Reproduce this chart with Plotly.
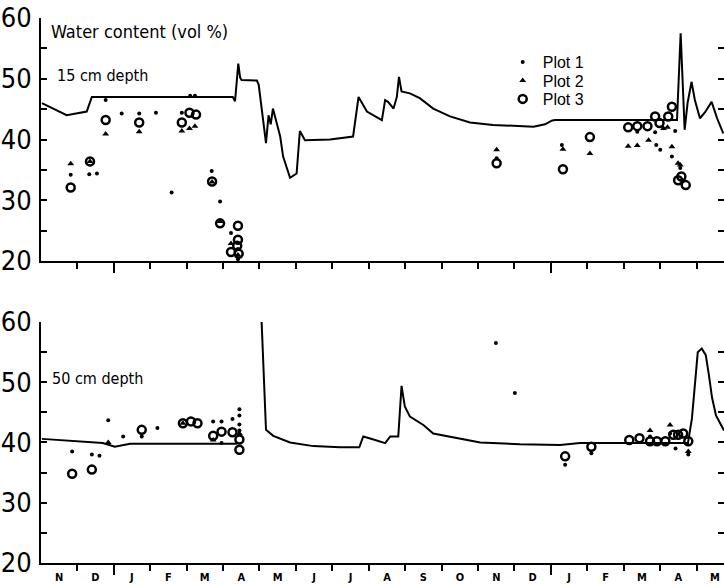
import plotly.graph_objects as go

# ---------------- data (x in months from start of first November) ----------------
months = ["N", "D", "J", "F", "M", "A", "M", "J", "J", "A", "S", "O", "N", "D", "J", "F", "M", "A", "M"]

# 15 cm depth simulated line
line15_x = [0.03, 0.71, 1.26, 1.40, 5.27, 5.33, 5.42, 5.47, 5.51, 5.93, 5.98, 6.07, 6.18, 6.25, 6.31, 6.37,
            6.57, 6.65, 6.84, 7.02, 7.11, 7.25, 7.94, 8.57, 8.65, 8.72, 8.95, 9.12, 9.36, 9.45, 9.53, 9.68,
            9.77, 9.83, 9.90, 10.13, 10.40, 10.77, 11.23, 11.78, 12.41, 13.52, 13.84, 14.02, 14.11, 17.46,
            17.56, 17.67, 17.75, 17.86, 17.95, 18.09, 18.23, 18.41, 18.56, 18.73]
line15_y = [46.0, 44.0, 44.6, 47.0, 47.0, 46.3, 52.5, 50.2, 49.8, 49.7, 49.0, 45.0, 39.4, 44.0, 42.5, 45.1,
            40.5, 37.2, 33.7, 34.4, 41.4, 39.9, 40.0, 40.5, 44.0, 47.0, 44.6, 44.0, 43.2, 46.5, 46.2, 45.1,
            47.0, 50.3, 47.9, 47.6, 46.8, 45.1, 43.8, 42.8, 42.4, 42.1, 42.5, 43.1, 43.2, 43.2,
            57.5, 41.6, 46.0, 49.5, 46.5, 43.5, 44.5, 46.2, 43.5, 41.0]

# 50 cm depth simulated line (gap before the jump)
line50_x = [0.03, 0.80, 1.70, 2.03, 2.45, 5.38, None, 6.06, 6.18, 6.38, 6.84, 7.48, 8.21, 8.74, 8.85, 9.13,
            9.45, 9.59, 9.81, 9.90, 9.99, 10.13, 10.50, 10.77, 11.42, 12.06, 13.15, 14.25, 14.80, 17.76,
            17.87, 17.95, 18.03, 18.14, 18.25, 18.34, 18.42, 18.53, 18.75]
line50_y = [40.6, 40.3, 39.9, 39.3, 39.8, 39.8, None, 60.0, 42.1, 41.1, 40.0, 39.4, 39.2, 39.2, 41.0, 40.5,
            39.9, 41.0, 41.0, 49.4, 46.0, 44.3, 42.9, 41.5, 40.7, 40.0, 39.7, 39.6, 39.9, 39.9,
            44.0, 50.0, 55.0, 55.6, 54.5, 51.0, 47.5, 44.5, 42.0]

# 15 cm measurements
p1_15_x = [0.82, 1.33, 1.54, 1.78, 2.22, 2.70, 3.16, 3.59, 3.87, 4.10, 4.23, 4.69, 4.92, 5.22, 5.41, 5.41,
           12.51, 14.30, 16.37, 16.86, 16.89, 17.00, 17.41, 17.32, 17.55]
p1_15_y = [34.2, 34.3, 34.4, 46.5, 44.3, 44.3, 44.4, 31.3, 44.4, 47.2, 47.2, 34.8, 29.8, 24.6, 22.0, 20.3,
           36.9, 39.1, 41.3, 41.2, 39.1, 38.3, 41.4, 37.2, 35.3]
p2_15_x = [0.82, 1.35, 1.78, 2.70, 3.87, 4.08, 4.23, 4.70, 4.92, 5.22, 5.41, 12.51, 14.33, 15.07, 16.12,
           16.37, 16.68, 17.09, 17.20, 17.32, 17.49, 17.55]
p2_15_y = [36.0, 36.4, 40.9, 41.3, 41.4, 41.8, 42.2, 33.0, 26.5, 22.9, 21.0, 38.3, 38.4, 37.7, 38.9,
           39.0, 39.9, 41.8, 42.0, 38.8, 36.1, 35.8]
p3_15_x = [0.82, 1.35, 1.78, 2.70, 3.87, 4.08, 4.26, 4.70, 4.92, 5.22, 5.41, 5.41, 5.39, 5.43, 5.41,
           12.51, 14.33, 15.07, 16.12, 16.37, 16.65, 16.86, 16.98, 17.22, 17.32, 17.58, 17.49, 17.70]
p3_15_y = [32.1, 36.4, 43.2, 42.8, 42.8, 44.4, 44.1, 33.1, 26.2, 21.5, 25.8, 23.5, 22.5, 21.2, 18.5,
           36.1, 35.1, 40.4, 42.0, 42.2, 42.2, 43.8, 42.7, 43.8, 45.4, 33.9, 33.3, 32.5]

# 50 cm measurements
p1_50_x = [0.86, 1.40, 1.61, 1.85, 2.26, 2.77, 3.20, 4.73, 4.96, 4.96, 5.26, 5.45, 5.45, 5.45, 5.45,
           12.49, 13.01, 14.39, 15.11, 16.72, 17.27, 17.42, 17.77]
p1_50_y = [38.5, 38.0, 37.8, 43.7, 41.0, 41.0, 42.4, 43.5, 43.5, 39.9, 43.9, 45.5, 44.5, 43.0, 42.0,
           56.5, 48.2, 36.3, 38.2, 41.0, 41.5, 39.0, 38.0]
p2_50_x = [1.85, 3.90, 4.73, 5.45, 16.72, 17.27, 17.77]
p2_50_y = [40.0, 43.2, 40.4, 41.5, 42.0, 42.9, 38.5]
p3_50_x = [0.86, 1.40, 2.77, 3.90, 4.12, 4.30, 4.73, 4.96, 5.26, 5.45, 5.45, 14.39, 15.11, 16.15, 16.43,
           16.72, 16.91, 17.14, 17.36, 17.49, 17.63, 17.77]
p3_50_y = [34.8, 35.5, 42.1, 43.2, 43.5, 43.2, 41.1, 41.8, 41.7, 38.8, 40.5, 37.7, 39.3, 40.4, 40.7,
           40.2, 40.2, 40.2, 41.3, 41.3, 41.5, 40.2]

y_ticks = [20, 25, 30, 35, 40, 45, 50, 55, 60]
y_ticktext = ["20", "", "30", "", "40", "", "50", "", "60"]
year_ticks = [2, 14]

# ---------------- styling ----------------
NUMFONT = "DejaVu Sans Condensed, Liberation Sans Narrow, DejaVu Sans, sans-serif"
TXTFONT = "DejaVu Sans Condensed, Liberation Sans Narrow, DejaVu Sans, sans-serif"
XR = [0.005, 18.75]
TOP_DOM = [0.5538, 0.9692]
BOT_DOM = [0.0376, 0.4496]

fig = go.Figure()

def add_panel(xa, ya, lx, ly, s1, s2, s3, show_legend):
    fig.add_trace(go.Scatter(x=lx, y=ly, mode="lines", line=dict(color="black", width=2),
                             connectgaps=False, showlegend=False, xaxis=xa, yaxis=ya, hoverinfo="skip"))
    fig.add_trace(go.Scatter(x=s1[0], y=s1[1], mode="markers", name="Plot 1", legend="legend",
                             showlegend=show_legend, marker=dict(symbol="circle", size=4, color="black"),
                             xaxis=xa, yaxis=ya, cliponaxis=False))
    fig.add_trace(go.Scatter(x=s2[0], y=s2[1], mode="markers", name="Plot 2", legend="legend2",
                             showlegend=show_legend, marker=dict(symbol="triangle-up", size=6, color="black"),
                             xaxis=xa, yaxis=ya, cliponaxis=False))
    fig.add_trace(go.Scatter(x=s3[0], y=s3[1], mode="markers", name="Plot 3", legend="legend3",
                             showlegend=show_legend,
                             marker=dict(symbol="circle-open", size=8, color="black", line=dict(width=2.5)),
                             xaxis=xa, yaxis=ya, cliponaxis=False))

add_panel("x", "y", line15_x, line15_y, (p1_15_x, p1_15_y), (p2_15_x, p2_15_y), (p3_15_x, p3_15_y), True)
add_panel("x2", "y2", line50_x, line50_y, (p1_50_x, p1_50_y), (p2_50_x, p2_50_y), (p3_50_x, p3_50_y), False)

# helper (empty) traces so that overlay axes are drawn
for xa, ya in [("x", "y3"), ("x2", "y4"), ("x3", "y"), ("x4", "y2")]:
    fig.add_trace(go.Scatter(x=[None], y=[None], mode="markers", showlegend=False, xaxis=xa, yaxis=ya,
                             hoverinfo="skip"))

centers = [i + 0.5 for i in range(len(months))]
bounds = list(range(len(months) + 1))

def xaxis_cfg(domain_anchor, labels):
    return dict(
        domain=[0, 1], range=XR, anchor=domain_anchor, showgrid=False, zeroline=False,
        showline=True, linecolor="black", linewidth=2,
        tickmode="array", tickvals=centers, ticktext=months, ticks="",
        showticklabels=labels, ticklabelstandoff=3,
        tickfont=dict(family=TXTFONT, size=11, color="black", weight="bold"),
        minor=dict(tickmode="array", tickvals=bounds, ticks="outside", ticklen=6, tickwidth=1.5,
                   tickcolor="black", showgrid=False),
    )

def yaxis_cfg(domain, anchor):
    return dict(
        domain=domain, range=[20, 60], anchor=anchor, showgrid=False, zeroline=False,
        showline=True, linecolor="black", linewidth=2,
        tickmode="array", tickvals=y_ticks, ticktext=y_ticktext, ticks="inside", ticklen=6,
        tickwidth=1.5, tickcolor="black",
        tickfont=dict(family=NUMFONT, size=27, color="black"), ticklabelstandoff=2,
    )

def yright_cfg(over, anchor):
    return dict(overlaying=over, anchor=anchor, side="right", range=[20, 60], showgrid=False,
                zeroline=False, showline=False, tickmode="array", tickvals=y_ticks, ticks="inside",
                ticklen=6, tickwidth=1.5, tickcolor="black", showticklabels=False)

def xyear_cfg(over, anchor):
    return dict(overlaying=over, anchor=anchor, side="bottom", range=XR, showgrid=False,
                zeroline=False, showline=False, tickmode="array", tickvals=year_ticks, ticks="outside",
                ticklen=11, tickwidth=1.5, tickcolor="black", showticklabels=False)

def legend_cfg(ypos):
    return dict(x=0.676, y=ypos, xanchor="left", yanchor="middle", bgcolor="rgba(0,0,0,0)",
                font=dict(family="Liberation Sans, Arial, sans-serif", size=16, color="black"),
                itemwidth=30, tracegroupgap=0)

fig.update_layout(
    width=724, height=585,
    margin=dict(l=41, r=0, t=0, b=0, autoexpand=False),
    paper_bgcolor="white", plot_bgcolor="white",
    xaxis=xaxis_cfg("y", False),
    yaxis=yaxis_cfg(TOP_DOM, "x"),
    xaxis2=xaxis_cfg("y2", True),
    yaxis2=yaxis_cfg(BOT_DOM, "x2"),
    yaxis3=yright_cfg("y", "x"),
    yaxis4=yright_cfg("y2", "x2"),
    xaxis3=xyear_cfg("x", "y"),
    xaxis4=xyear_cfg("x2", "y2"),
    showlegend=True,
    legend=legend_cfg(0.8940),
    legend2=legend_cfg(0.8624),
    legend3=legend_cfg(0.8308),
    annotations=[
        dict(x=0.22, y=57.7, xref="x", yref="y", text="Water content (vol %)", showarrow=False,
             xanchor="left", yanchor="middle", font=dict(family=TXTFONT, size=18, color="black")),
        dict(x=0.38, y=50.5, xref="x", yref="y", text="15 cm depth", showarrow=False,
             xanchor="left", yanchor="middle", font=dict(family=TXTFONT, size=16, color="black")),
        dict(x=0.24, y=50.7, xref="x2", yref="y2", text="50 cm depth", showarrow=False,
             xanchor="left", yanchor="middle", font=dict(family=TXTFONT, size=16, color="black")),
    ],
)

fig.write_html("out.html")
